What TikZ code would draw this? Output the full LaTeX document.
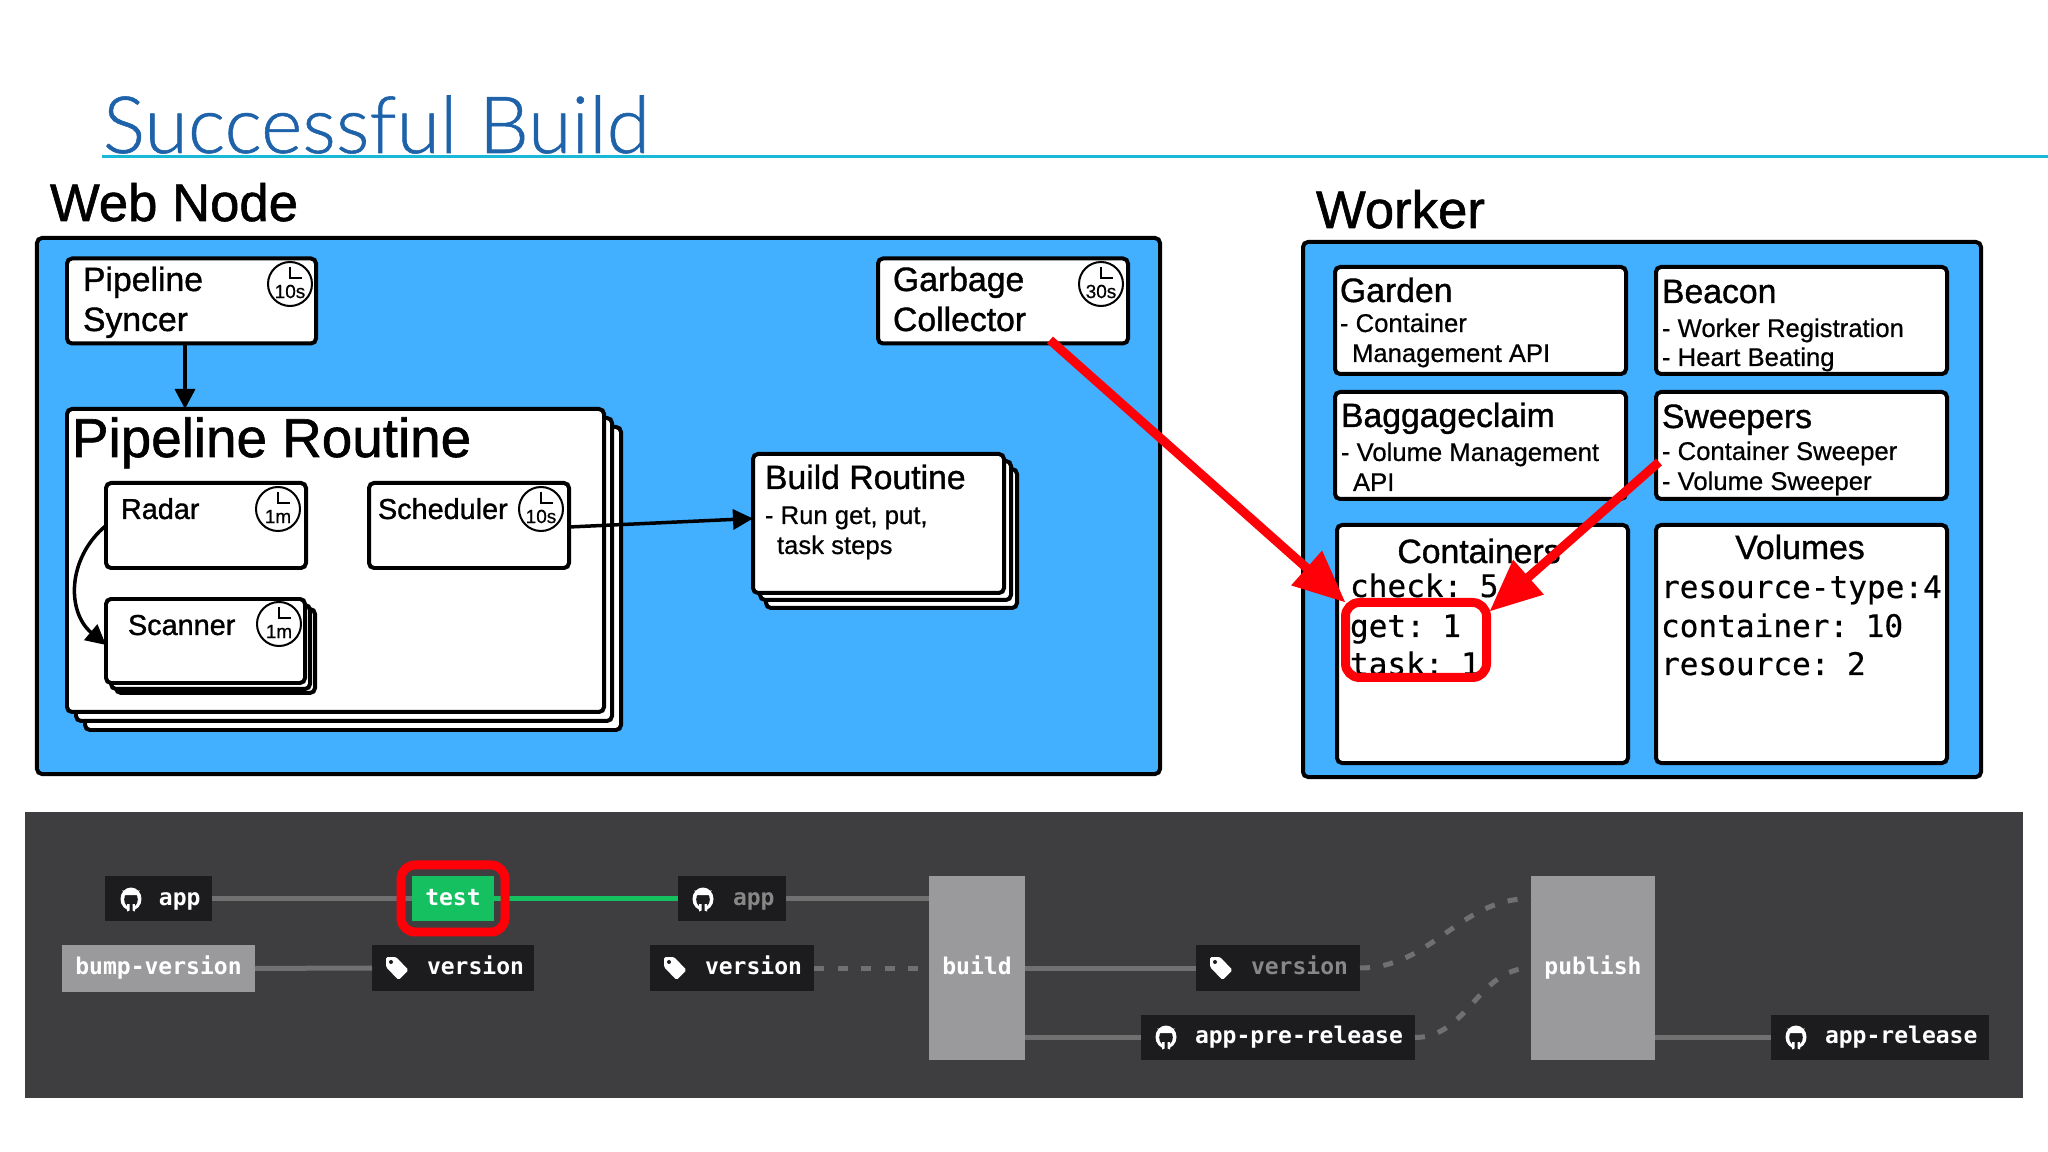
\documentclass[tikz,border=0pt]{standalone}
\usepackage{fontspec}
\setmainfont[FakeBold=0.6]{Liberation Sans}
\newfontfamily\headfont[FakeBold=1.1]{Liberation Sans}
\newfontfamily\titlefont[FakeBold=0.7]{Lato Light}
\newfontfamily\codefont[FakeBold=0.5,WordSpace=0.6]{DejaVu Sans Mono}
\newfontfamily\pipefont{DejaVu Sans Mono}[BoldFont={DejaVu Sans Mono Bold}]
\usetikzlibrary{arrows.meta,positioning,calc}
\definecolor{nodeblue}{RGB}{66,175,255}
\definecolor{titleblue}{RGB}{30,98,170}
\definecolor{rulecyan}{RGB}{23,184,216}
\definecolor{alertred}{RGB}{255,0,8}
\definecolor{panelgray}{RGB}{62,61,63}
\definecolor{jobblack}{RGB}{28,28,30}
\definecolor{jobgray}{RGB}{154,153,156}
\definecolor{jobgreen}{RGB}{21,192,96}
\definecolor{pipeline}{RGB}{112,112,112}
\definecolor{dimtext}{RGB}{135,135,135}
\tikzset{
  every node/.style={inner sep=0pt, outer sep=0pt},
  panel/.style={draw=black, fill=nodeblue, line width=.04cm, rounded corners=.05cm, anchor=north west},
  card/.style={draw=black, fill=white, line width=.04cm, rounded corners=.05cm, anchor=north west},
  txt/.style={anchor=base west, font=\fontsize{7.3}{9}\selectfont},
  cardname/.style={anchor=base west, font=\headfont\fontsize{9.6}{11}\selectfont},
  smallname/.style={anchor=base west, font=\headfont\fontsize{8.2}{10}\selectfont},
  bigname/.style={anchor=base west, font=\headfont\fontsize{15}{18}\selectfont},
  counter/.style={anchor=base west, font=\codefont\fontsize{8.85}{10}\selectfont},
  flow/.style={draw=black, line width=.035cm, -{Triangle[length=.2cm,width=.2cm]}},
  alert/.style={draw=alertred, line width=.09cm, -{Triangle[length=.52cm,width=.44cm]}},
  alertbox/.style={draw=alertred, line width=.09cm, rounded corners=.14cm, anchor=north west},
  job/.style={fill=jobblack, anchor=north west},
  gatejob/.style={fill=jobgray, anchor=north west},
  joblabel/.style={anchor=base west, text=white, font=\pipefont\bfseries\fontsize{6.55}{8}\selectfont},
  link/.style={draw=pipeline, line width=.05cm},
  passlink/.style={draw=jobgreen, line width=.05cm},
  softlink/.style={draw=pipeline, line width=.05cm, dash pattern=on .1cm off .135cm},
  pics/clockface/.style={code={
    \draw[line width=.02cm] (0,0) circle (.22);
    \draw[line width=.02cm] (0,-.17) |- (.12,-.06);
    \node[font=\fontsize{5.4}{6}\selectfont] (-time) at (0,.075) {#1};
  }},
  pics/repoicon/.style={code={
    \fill[white] (0,0) ellipse (.105 and .115);
    \fill[jobblack] (0,.005) ellipse (.068 and .08);
    \fill[jobblack] (-.04,.05) rectangle (.04,.13);
    \fill[white] (-.085,-.09) -- (-.05,-.06) -- (-.02,-.085) -- (.02,-.085) -- (.05,-.06) -- (.085,-.09) -- (.07,-.04) -- (-.07,-.04) -- cycle;
    \fill[white] (-.04,.05) -- (-.04,.125) -- (-.015,.115) -- (-.015,.05) -- cycle;
    \fill[white] (.04,.05) -- (.04,.125) -- (.015,.115) -- (.015,.05) -- cycle;
  }},
  pics/tagicon/.style={code={
    \fill[white, rounded corners=.015cm] (-.11,-.11) -- (-.01,-.11) -- (.115,.02) -- (.015,.12) -- (-.11,-.01) -- cycle;
    \fill[jobblack] (-.06,-.06) circle (.02);
  }}
}
\begin{document}
\begin{tikzpicture}[x=1cm,y=-1cm]
  \useasboundingbox (0,0) rectangle (20.48,11.52);

  \node[anchor=base west, text=titleblue, font=\titlefont\fontsize{22.5}{26}\selectfont] (title) at (1.03,1.53) {Successful Build};
  \draw[rulecyan, line width=.03cm] (1.02,1.565) -- (20.48,1.565);

  % web node
  \node[bigname] (webtitle) at (0.50,2.21) {Web Node};
  \node[panel, minimum width=11.23cm, minimum height=5.36cm] (web) at (0.37,2.38) {};

  \node[card, minimum width=2.49cm, minimum height=.85cm] (syncer) at (0.67,2.585) {};
  \node[cardname] (syncer1) at (0.83,2.91) {Pipeline};
  \node[cardname] (syncer2) at (0.83,3.31) {Syncer};
  \pic (syncerclock) at (2.90,2.84) {clockface=10s};

  \node[card, minimum width=2.50cm, minimum height=.85cm] (garbage) at (8.78,2.585) {};
  \node[cardname] (garbage1) at (8.93,2.91) {Garbage};
  \node[cardname] (garbage2) at (8.93,3.31) {Collector};
  \pic (garbageclock) at (11.01,2.84) {clockface=30s};

  \node[card, minimum width=5.36cm, minimum height=3.03cm] (routine3) at (0.85,4.27) {};
  \node[card, minimum width=5.36cm, minimum height=3.03cm] (routine2) at (0.76,4.18) {};
  \node[card, minimum width=5.37cm, minimum height=3.03cm] (routine) at (0.67,4.09) {};
  \node[bigname, font=\headfont\fontsize{15.6}{18}\selectfont] (routinename) at (0.72,4.57) {Pipeline Routine};

  \node[card, minimum width=2.00cm, minimum height=.85cm] (radar) at (1.06,4.83) {};
  \node[smallname] (radarname) at (1.21,5.19) {Radar};
  \pic (radarclock) at (2.78,5.09) {clockface=1m};

  \node[card, minimum width=2.00cm, minimum height=.85cm] (scheduler) at (3.69,4.83) {};
  \node[smallname] (schedulername) at (3.78,5.19) {Scheduler};
  \pic (schedulerclock) at (5.41,5.09) {clockface=10s};

  \node[card, minimum width=1.99cm, minimum height=.84cm] (scanner3) at (1.16,6.09) {};
  \node[card, minimum width=1.99cm, minimum height=.84cm] (scanner2) at (1.11,6.05) {};
  \node[card, minimum width=1.99cm, minimum height=.84cm] (scanner) at (1.06,5.99) {};
  \node[smallname] (scannername) at (1.28,6.35) {Scanner};
  \pic (scannerclock) at (2.79,6.24) {clockface=1m};

  \node[card, minimum width=2.51cm, minimum height=1.39cm] (build3) at (7.66,4.69) {};
  \node[card, minimum width=2.51cm, minimum height=1.39cm] (build2) at (7.60,4.61) {};
  \node[card, minimum width=2.51cm, minimum height=1.39cm] (buildroutine) at (7.53,4.54) {};
  \node[cardname] (buildname) at (7.65,4.89) {Build Routine};
  \node[txt] (buildtxt1) at (7.65,5.24) {- Run get, put,};
  \node[txt] (buildtxt2) at (7.77,5.54) {task steps};

  \draw[flow] ([xshift=-.065cm]syncer.south) -- ([xshift=-.065cm]syncer.south |- routine.north);
  \draw[flow] (radar.west) to[out=220,in=140,looseness=1.1] ([yshift=-.04cm]scanner.west);
  \draw[flow] ([yshift=-.015cm]scheduler.east) -- ([yshift=.05cm]buildroutine.west);

  % worker
  \node[bigname] (workertitle) at (13.16,2.28) {Worker};
  \node[panel, minimum width=6.78cm, minimum height=5.35cm] (worker) at (13.03,2.42) {};

  \node[card, minimum width=2.91cm, minimum height=1.07cm] (garden) at (13.35,2.67) {};
  \node[cardname] (gardenname) at (13.40,3.02) {Garden};
  \node[txt] (gardentxt1) at (13.40,3.32) {- Container};
  \node[txt] (gardentxt2) at (13.52,3.62) {Management API};

  \node[card, minimum width=2.91cm, minimum height=1.07cm] (beacon) at (16.56,2.67) {};
  \node[cardname] (beaconname) at (16.62,3.03) {Beacon};
  \node[txt] (beacontxt1) at (16.62,3.37) {- Worker Registration};
  \node[txt] (beacontxt2) at (16.62,3.66) {- Heart Beating};

  \node[card, minimum width=2.91cm, minimum height=1.07cm] (baggage) at (13.35,3.92) {};
  \node[cardname] (baggagename) at (13.41,4.27) {Baggageclaim};
  \node[txt] (baggagetxt1) at (13.41,4.61) {- Volume Management};
  \node[txt] (baggagetxt2) at (13.53,4.91) {API};

  \node[card, minimum width=2.91cm, minimum height=1.07cm] (sweepers) at (16.56,3.92) {};
  \node[cardname] (sweepersname) at (16.62,4.28) {Sweepers};
  \node[txt] (sweeperstxt1) at (16.62,4.60) {- Container Sweeper};
  \node[txt] (sweeperstxt2) at (16.62,4.90) {- Volume Sweeper};

  \node[card, minimum width=2.91cm, minimum height=2.38cm] (containers) at (13.37,5.25) {};
  \node[cardname, anchor=base] (containersname) at (14.79,5.63) {Containers};
  \node[counter] (check) at (13.50,5.97) {check: 5};
  \node[counter] (get) at (13.50,6.37) {get: 1};
  \node[counter] (task) at (13.50,6.75) {task: 1};

  \node[card, minimum width=2.91cm, minimum height=2.38cm] (volumes) at (16.56,5.25) {};
  \node[cardname, anchor=base] (volumesname) at (18.00,5.59) {Volumes};
  \node[counter] (restype) at (16.61,5.98) {resource-type:4};
  \node[counter] (container) at (16.61,6.37) {container: 10};
  \node[counter] (resource) at (16.61,6.75) {resource: 2};

  % red callouts
  \node[alertbox, minimum width=1.41cm, minimum height=.75cm] (redbox) at (13.455,6.025) {};
  \coordinate (garbageout) at (10.50,3.40);
  \coordinate (sweepout) at (16.59,4.62);
  \draw[alert] (garbageout) -- (redbox.north west);
  \draw[alert] (sweepout) -- ([xshift=.03cm,yshift=-.09cm]redbox.north east);

  % pipeline
  \node[fill=panelgray, anchor=north west, minimum width=19.98cm, minimum height=2.86cm] (panel) at (0.25,8.12) {};

  \node[job, minimum width=1.07cm, minimum height=.45cm] (app1) at (1.05,8.76) {};
  \node[job, fill=jobgreen, minimum width=.82cm, minimum height=.45cm] (testjob) at (4.12,8.76) {};
  \node[job, minimum width=1.08cm, minimum height=.45cm] (app2) at (6.78,8.76) {};
  \node[gatejob, minimum width=1.93cm, minimum height=.47cm] (bump) at (0.62,9.45) {};
  \node[job, minimum width=1.62cm, minimum height=.46cm] (version1) at (3.72,9.45) {};
  \node[job, minimum width=1.64cm, minimum height=.46cm] (version2) at (6.50,9.45) {};
  \node[gatejob, minimum width=.96cm, minimum height=1.84cm] (buildjob) at (9.29,8.76) {};
  \node[job, minimum width=1.64cm, minimum height=.46cm] (version3) at (11.96,9.45) {};
  \node[job, minimum width=2.74cm, minimum height=.45cm] (apppre) at (11.41,10.15) {};
  \node[gatejob, minimum width=1.24cm, minimum height=1.84cm] (publish) at (15.31,8.76) {};
  \node[job, minimum width=2.18cm, minimum height=.45cm] (apprel) at (17.71,10.15) {};

  \draw[link] (app1) -- (testjob);
  \draw[passlink] (testjob) -- (app2);
  \draw[link] (app2) -- (app2 -| buildjob.west);
  \draw[link] (bump) -- (version1);
  \draw[softlink] (version2) -- ([xshift=-.11cm]version2 -| buildjob.west);
  \draw[link] (version3 -| buildjob.east) -- (version3);
  \draw[link] (apppre -| buildjob.east) -- (apppre);
  \draw[link] (apprel -| publish.east) -- (apprel);
  \draw[softlink] (version3) to[out=0,in=180] (app2 -| publish.west);
  \draw[softlink] (apppre) to[out=0,in=180] (publish.west);

  \node[alertbox, minimum width=1.04cm, minimum height=.67cm] (testbox) at (4.01,8.65) {};

  \pic at (1.31,8.99) {repoicon};
  \pic at (7.03,8.99) {repoicon};
  \pic at (11.66,10.37) {repoicon};
  \pic at (17.96,10.37) {repoicon};
  \pic at (3.97,9.68) {tagicon};
  \pic at (6.75,9.68) {tagicon};
  \pic at (12.21,9.68) {tagicon};

  \node[joblabel] (app1name) at (1.59,9.05) {app};
  \node[joblabel, anchor=base] (testname) at (4.53,9.05) {test};
  \node[joblabel, text=dimtext] (app2name) at (7.33,9.05) {app};
  \node[joblabel, anchor=base] (bumpname) at (1.585,9.74) {bump-version};
  \node[joblabel] (version1name) at (4.27,9.74) {version};
  \node[joblabel] (version2name) at (7.05,9.74) {version};
  \node[joblabel, anchor=base] (buildjobname) at (9.77,9.74) {build};
  \node[joblabel, text=dimtext] (version3name) at (12.51,9.74) {version};
  \node[joblabel, anchor=base] (publishname) at (15.93,9.74) {publish};
  \node[joblabel] (apppname) at (11.95,10.43) {app-pre-release};
  \node[joblabel] (apprelname) at (18.25,10.43) {app-release};
\end{tikzpicture}
\end{document}
